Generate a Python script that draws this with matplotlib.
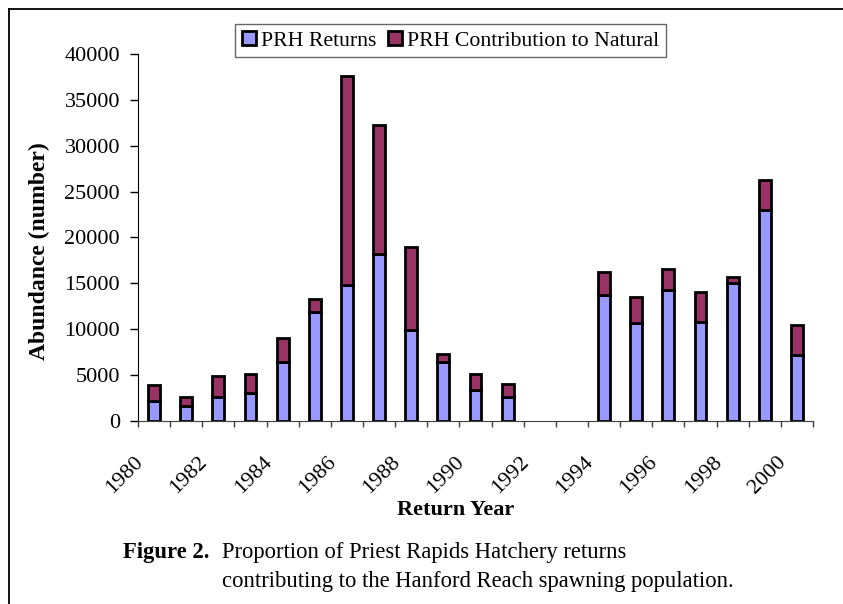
import matplotlib
matplotlib.use("Agg")
import matplotlib.pyplot as plt
from matplotlib.lines import Line2D
from matplotlib.transforms import ScaledTranslation
import numpy as np

plt.rcParams['font.family'] = ['Liberation Serif', 'DejaVu Serif']

years = list(range(1980, 2001))
# None = no data for that year
prh_returns = [2180, 1600, 2580, 3050, 6400, 11900, 14800, 18200, 9900, 6460, 3410, 2580,
               None, None, 13770, 10680, 14240, 10760, 15000, 23030, 7160]
prh_natural = [1780, 980, 2360, 2030, 2600, 1360, 22800, 14100, 9100, 810, 1680, 1420,
               None, None, 2500, 2870, 2290, 3340, 730, 3240, 3270]
tick_years = [str(y) if (y - 1980) % 2 == 0 else '' for y in years]
y_ticks = list(range(0, 40001, 5000))

W, H = 843, 604
fig = plt.figure(figsize=(W / 100, H / 100), dpi=100)
ax = fig.add_axes([138 / W, 1 - 421 / H, (813 - 138) / W, (421 - 54) / H])

idx = [i for i, v in enumerate(prh_returns) if v is not None]
ret = np.array([prh_returns[i] for i in idx])
nat = np.array([prh_natural[i] for i in idx])

bw = 0.37
ax.bar(idx, ret, width=bw, color='#9999FF', edgecolor='black', linewidth=2.0,
       label='PRH Returns', zorder=3)
ax.bar(idx, nat, bottom=ret, width=bw, color='#993366', edgecolor='black', linewidth=2.0,
       label='PRH Contribution to Natural', zorder=3)

ax.set_xlim(-0.5, len(years) - 0.5)
ax.set_ylim(0, 40000)
ax.set_yticks(y_ticks)
ax.set_yticklabels([str(v) for v in y_ticks], fontsize=16)
ax.tick_params(axis='y', direction='out', length=5.5, width=1, pad=7.5)

# ticks at category boundaries, labels drawn separately
ax.set_xticks(np.arange(-0.5, len(years), 1))
ax.set_xticklabels([])
ax.tick_params(axis='x', direction='out', length=4, width=1, color='#404040')

off = ScaledTranslation(-10.5 / 100, -42 / 100, fig.dpi_scale_trans)
for i, lab in enumerate(tick_years):
    if lab:
        ax.text(i, 0, lab, transform=ax.transData + off, rotation=45,
                rotation_mode='anchor', ha='right', va='baseline', fontsize=16)

for s in ['top', 'right']:
    ax.spines[s].set_visible(False)
ax.spines['left'].set_color('black')
ax.spines['bottom'].set_color('#404040')

fig.text(39 / W, 1 - 251 / H, 'Abundance (number)', rotation=90, ha='center', va='center',
         fontsize=17, fontweight='bold')
fig.text(456 / W, 1 - 515 / H, 'Return Year', ha='center', va='baseline',
         fontsize=16, fontweight='bold')

fig.text(123 / W, 1 - 558 / H, 'Figure 2.', ha='left', va='baseline', fontsize=16.3, fontweight='bold')
fig.text(222 / W, 1 - 558 / H, 'Proportion of Priest Rapids Hatchery returns',
         ha='left', va='baseline', fontsize=16.3)
fig.text(222 / W, 1 - 587 / H, 'contributing to the Hanford Reach spawning population.',
         ha='left', va='baseline', fontsize=16.3)

handles, labels = ax.get_legend_handles_labels()
leg = fig.legend(handles, labels, loc='center', bbox_to_anchor=(450.5 / W, 1 - 40.8 / H),
                 ncol=2, fontsize=15.7, frameon=True, fancybox=False, shadow=False,
                 handlelength=0.65, handleheight=0.65, handletextpad=0.25,
                 columnspacing=0.5, borderpad=0.3, borderaxespad=0)
leg.get_frame().set_edgecolor('#404040')
leg.get_frame().set_linewidth(1)

# page frame
fig.add_artist(Line2D([9 / W, 1], [1 - 9 / H, 1 - 9 / H], transform=fig.transFigure,
                      color='black', lw=1.3))
fig.add_artist(Line2D([9 / W, 9 / W], [0, 1 - 9 / H], transform=fig.transFigure,
                      color='black', lw=1.3))

fig.savefig('out.png', dpi=100)
